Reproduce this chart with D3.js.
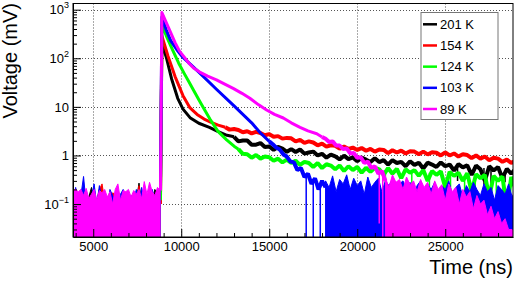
<!DOCTYPE html>
<html>
<head>
<meta charset="utf-8">
<script src="https://cdn.jsdelivr.net/npm/d3@7"></script>
<style>
  body { margin: 0; background: #fff; }
  svg { display: block; font-family: "Liberation Sans", Arial, Helvetica, sans-serif; }
</style>
</head>
<body>
<div id="chart"></div>
<script>
// ---- values (time in ns, voltage in mV) ----
const labels = ['201 K', '154 K', '124 K', '103 K', '89 K'];
const colors = ['#000000', '#ff0000', '#00ff00', '#0000ff', '#ff00ff'];

const xMajor = [5000, 10000, 15000, 20000, 25000];
const yMajor = [0.1, 1, 10, 100, 1000];
const yTickText = [['10', '\u22121'], ['1', ''], ['10', ''], ['10', '2'], ['10', '3']];

// baseline noise before the pulse, one value every 150 ns from 3850 ns
const preStart = 3850;
const preStep = 150;
const pre201 = [0.1, 0.12, 0.1, 0.13, 0.11, 0.1, 0.14, 0.22, 0.12, 0.1, 0.13, 0.11, 0.1, 0.12, 0.11, 0.1, 0.13, 0.12, 0.1, 0.11, 0.12, 0.1, 0.13, 0.11, 0.12, 0.27, 0.1, 0.12, 0.11, 0.13, 0.1, 0.2, 0.17, 0.12];
const pre154 = [0.12, 0.1, 0.14, 0.12, 0.1, 0.15, 0.1, 0.13, 0.16, 0.12, 0.2, 0.26, 0.12, 0.1, 0.13, 0.17, 0.16, 0.1, 0.12, 0.14, 0.1, 0.13, 0.15, 0.11, 0.12, 0.24, 0.1, 0.14, 0.12, 0.1, 0.13, 0.11, 0.12, 0.1];
const pre124 = [0.17, 0.1, 0.12, 0.1, 0.11, 0.12, 0.1, 0.11, 0.1, 0.12, 0.1, 0.14, 0.11, 0.1, 0.12, 0.1, 0.11, 0.1, 0.12, 0.13, 0.1, 0.11, 0.12, 0.1, 0.11, 0.1, 0.12, 0.1, 0.11, 0.12, 0.1, 0.11, 0.1, 0.12];
const pre103 = [0.1, 0.22, 0.12, 0.15, 0.37, 0.1, 0.12, 0.14, 0.26, 0.1, 0.24, 0.12, 0.15, 0.09, 0.2, 0.15, 0.12, 0.1, 0.16, 0.2, 0.12, 0.1, 0.15, 0.12, 0.2, 0.1, 0.22, 0.12, 0.15, 0.1, 0.2, 0.13, 0.18, 0.23];
const pre89 = [0.19, 0.2, 0.18, 0.2, 0.15, 0.21, 0.13, 0.16, 0.2, 0.12, 0.19, 0.17, 0.2, 0.14, 0.18, 0.1, 0.2, 0.26, 0.12, 0.19, 0.18, 0.2, 0.14, 0.19, 0.16, 0.2, 0.13, 0.29, 0.16, 0.28, 0.18, 0.15, 0.22, 0.19];

// pulse and fast decay, [time, voltage]
const decay201 = [[8820, 0.12], [8900, 205], [9150, 105], [9450, 38], [9800, 15], [10100, 9], [10500, 6], [11000, 4.6], [11600, 3.8], [12100, 3.1], [12600, 2.6], [13000, 2.42]];
const decay154 = [[8820, 0.1], [8900, 288], [9250, 110], [9650, 42], [10100, 17], [10500, 9.5], [10900, 7], [11300, 5.6], [11700, 4.8], [12100, 4.2], [12500, 3.8]];
const decay124 = [[8820, 0.12], [8900, 484], [9150, 290], [9500, 150], [9850, 80], [10150, 50], [10450, 32], [10700, 22], [11000, 14], [11300, 9], [11630, 5.6], [12100, 3.1], [12580, 2.1], [13000, 1.55], [13250, 1.35]];
const decay103 = [[8820, 0.23], [8900, 710], [9150, 380], [9400, 230], [9750, 150], [10100, 104], [11000, 52], [12000, 23], [13000, 10.5], [14000, 4.7], [14500, 2.9], [15000, 1.95]];
const decay89 = [[8820, 0.19], [8900, 870], [9250, 450], [9650, 210], [9900, 140], [10150, 108], [10450, 78], [10700, 63], [11050, 52], [11500, 43], [12000, 36], [12500, 29], [12950, 24], [13450, 19], [13900, 15], [14400, 11], [14850, 8.6], [15300, 7], [15800, 5.9], [16250, 4.7], [16750, 3.8], [17200, 3.2], [17700, 2.8], [18000, 2.4]];

// slow noisy tails, one value every 250 ns
const tailStep = 250;
const tail201Start = 13000;
const tail201 = [2.42, 1.95, 2.03, 2.03, 1.66, 1.67, 1.8, 1.49, 1.53, 1.3, 1.5, 1.39, 1.19, 1.35, 1.18, 1.33, 1.09, 1.15, 1.2, 1.0, 1.08, 0.9, 1.04, 0.96, 0.83, 0.99, 0.84, 0.91, 0.76, 0.9, 0.82, 0.73, 0.88, 0.73, 0.8, 0.65, 0.8, 0.7, 0.74, 0.6, 0.76, 0.64, 0.71, 0.54, 0.71, 0.65, 0.58, 0.72, 0.6, 0.65, 0.49, 0.66, 0.57, 0.63, 0.4, 0.62, 0.52, 0.3, 0.6, 0.49, 0.58, 0.34, 0.53, 0.42, 0.53];
const tail154Start = 12500;
const tail154 = [3.8, 3.4, 3.5, 3.35, 3.0, 3.15, 2.85, 3.05, 2.9, 2.6, 2.75, 2.42, 2.5, 2.22, 2.3, 2.25, 1.95, 2.1, 1.82, 1.95, 1.85, 1.62, 1.75, 1.52, 1.62, 1.58, 1.38, 1.52, 1.36, 1.45, 1.3, 1.42, 1.25, 1.36, 1.2, 1.33, 1.3, 1.12, 1.28, 1.15, 1.26, 1.1, 1.22, 1.2, 1.06, 1.2, 1.05, 1.17, 1.14, 1.0, 1.16, 1.0, 1.1, 0.95, 1.06, 1.02, 0.88, 1.0, 0.86, 0.95, 0.8, 0.9, 0.86, 0.74, 0.82, 0.7, 0.78];
const tail124Start = 13250;
const tail124 = [1.35, 1.08, 1.06, 0.9, 1.02, 0.86, 0.95, 0.92, 0.78, 0.86, 0.72, 0.82, 0.7, 0.78, 0.64, 0.74, 0.7, 0.58, 0.7, 0.55, 0.66, 0.62, 0.52, 0.62, 0.48, 0.6, 0.5, 0.58, 0.44, 0.56, 0.46, 0.56, 0.52, 0.4, 0.55, 0.42, 0.53, 0.34, 0.52, 0.44, 0.5, 0.38, 0.5, 0.3, 0.48, 0.4, 0.47, 0.22, 0.46, 0.38, 0.44, 0.3, 0.43, 0.18, 0.41, 0.34, 0.4, 0.14, 0.38, 0.3, 0.37, 0.08, 0.36, 0.2];

// noisy band where the fast traces hit the noise, [time, voltage]
const band103 = [[15000, 1.95], [15200, 1.7], [15400, 1.45], [15600, 1.32], [15800, 1.05], [16000, 0.95], [16200, 0.75], [16400, 0.72], [16600, 0.5], [16800, 0.55], [17000, 0.36], [17200, 0.42], [17400, 0.26], [17600, 0.34], [17800, 0.2], [18000, 0.3], [18200, 0.22]];
const band89 = [[18000, 2.4], [18200, 2.2], [18400, 1.9], [18600, 1.95], [18800, 1.6], [19000, 1.6], [19200, 1.35], [19400, 1.4], [19600, 1.1], [19800, 1.12], [20000, 0.9], [20200, 0.92], [20400, 0.7], [20600, 0.75], [20800, 0.55], [21000, 0.6], [21200, 0.42], [21400, 0.48], [21600, 0.3]];

// noise floor once the signal is gone, one value every 200 ns
const floorStep = 200;
const floor103Start = 18200;
const floor103 = [0.3, 0.22, 0.38, 0.18, 0.32, 0.26, 0.4, 0.2, 0.34, 0.24, 0.3, 0.16, 0.36, 0.22, 0.28, 0.34, 0.18, 0.3, 0.24, 0.32, 0.16, 0.26, 0.3, 0.2, 0.28, 0.14, 0.24, 0.3, 0.18, 0.26, 0.2, 0.28, 0.15, 0.24, 0.2, 0.3, 0.16, 0.22, 0.26, 0.14, 0.24, 0.18, 0.28, 0.2, 0.15, 0.26, 0.18, 0.22, 0.12, 0.24, 0.2, 0.16, 0.26, 0.14, 0.2];
const floor89Start = 21600;
const floor89 = [0.35, 0.22, 0.4, 0.28, 0.32, 0.2, 0.36, 0.25, 0.3, 0.18, 0.32, 0.22, 0.28, 0.16, 0.3, 0.2, 0.25, 0.12, 0.26, 0.18, 0.22, 0.1, 0.2, 0.14, 0.18, 0.08, 0.15, 0.1, 0.12, 0.06, 0.09, 0.05, 0.07, 0.04, 0.05, 0.03, 0.03, 0.02];

// single-sample downward spikes, [time, from, to]
const spikes201 = [[25700, 0.6, 0.3], [27200, 0.55, 0.25], [27600, 0.55, 0.18], [28400, 0.5, 0.28]];
const spikes124 = [[21600, 0.5, 0.2], [23100, 0.46, 0.15], [24100, 0.44, 0.12], [25300, 0.41, 0.08], [26100, 0.38, 0.1], [26700, 0.36, 0.06], [27300, 0.35, 0.09], [27900, 0.33, 0.04], [28300, 0.32, 0.07], [28700, 0.3, 0.03]];
const spikes103 = [[17100, 0.4, 0.02], [17500, 0.3, 0.02], [17900, 0.26, 0.02]];
const spikes89 = [[21250, 0.4, 0.04], [21450, 0.4, 0.02]];

function Waveforms() {
  const width = 515;
  const height = 284;
  const frame = { l: 73, r: 513, t: 3.5, b: 237 };

  const scaleX = d3.scaleLinear()
    .domain([3850, 28850])
    .range([frame.l, frame.r]);

  const scaleY = d3.scaleLog()
    .domain([0.021, 1340])
    .range([frame.b, frame.t])
    .clamp(true);

  const stepped = (start, step, vals) => vals.map((v, i) => [start + i * step, v]);

  const series = [
    { pre: pre201, decay: decay201, tail: stepped(tail201Start, tailStep, tail201), floor: null, spikes: spikes201 },
    { pre: pre154, decay: decay154, tail: stepped(tail154Start, tailStep, tail154), floor: null, spikes: [] },
    { pre: pre124, decay: decay124, tail: stepped(tail124Start, tailStep, tail124), floor: null, spikes: spikes124 },
    { pre: pre103, decay: decay103, tail: band103, floor: stepped(floor103Start, floorStep, floor103), spikes: spikes103 },
    { pre: pre89, decay: decay89, tail: band89, floor: stepped(floor89Start, floorStep, floor89), spikes: spikes89 },
  ].map((s, i) => Object.assign(s, { label: labels[i], color: colors[i] }));

  function exports(selection) {
    const svg = selection.append('svg')
      .attr('width', width)
      .attr('height', height);

    svg.append('rect')
      .attr('width', width)
      .attr('height', height)
      .attr('fill', '#fff');

    svg.append('clipPath')
      .attr('id', 'frame-clip')
      .append('rect')
      .attr('x', frame.l)
      .attr('y', frame.t)
      .attr('width', frame.r - frame.l)
      .attr('height', frame.b - frame.t);

    // grid
    const grid = svg.append('g')
      .attr('stroke', '#555')
      .attr('stroke-width', 1)
      .attr('stroke-dasharray', '1,2');

    grid.selectAll('.gx')
      .data(xMajor)
      .enter().append('line')
      .attr('x1', d => Math.round(scaleX(d)) + 0.5)
      .attr('x2', d => Math.round(scaleX(d)) + 0.5)
      .attr('y1', frame.t)
      .attr('y2', frame.b);

    grid.selectAll('.gy')
      .data(yMajor)
      .enter().append('line')
      .attr('x1', frame.l)
      .attr('x2', frame.r)
      .attr('y1', d => Math.round(scaleY(d)) + 0.5)
      .attr('y2', d => Math.round(scaleY(d)) + 0.5);

    // waveforms
    const plot = svg.append('g').attr('clip-path', 'url(#frame-clip)');

    const area = d3.area()
      .x(d => scaleX(d[0]))
      .y0(frame.b)
      .y1(d => scaleY(d[1]));

    const line = d3.line()
      .x(d => scaleX(d[0]))
      .y(d => scaleY(d[1]));

    series.forEach((s) => {
      const g = plot.append('g');

      g.append('path')
        .datum(stepped(preStart, preStep, s.pre))
        .attr('d', area)
        .attr('fill', s.color)
        .attr('stroke', s.color)
        .attr('stroke-width', 1);

      if (s.floor) {
        g.append('path')
          .datum(s.floor)
          .attr('d', area)
          .attr('fill', s.color)
          .attr('stroke', s.color)
          .attr('stroke-width', 1);
      }

      g.append('path')
        .datum(s.decay)
        .attr('d', line)
        .attr('fill', 'none')
        .attr('stroke', s.color)
        .attr('stroke-width', 3)
        .attr('stroke-linejoin', 'round');

      g.append('path')
        .datum(s.tail)
        .attr('d', line)
        .attr('fill', 'none')
        .attr('stroke', s.color)
        .attr('stroke-width', 4)
        .attr('stroke-linejoin', 'bevel');

      g.selectAll('.spike')
        .data(s.spikes)
        .enter().append('line')
        .attr('x1', d => scaleX(d[0]))
        .attr('x2', d => scaleX(d[0]))
        .attr('y1', d => scaleY(d[1]))
        .attr('y2', d => scaleY(d[2]))
        .attr('stroke', s.color)
        .attr('stroke-width', 1.5);
    });

    // frame
    svg.append('rect')
      .attr('x', frame.l)
      .attr('y', frame.t)
      .attr('width', frame.r - frame.l)
      .attr('height', frame.b - frame.t)
      .attr('fill', 'none')
      .attr('stroke', '#000')
      .attr('stroke-width', 1);

    // axes
    const xMinor = d3.range(4000, 29000, 1000).filter(d => xMajor.indexOf(d) < 0);
    const yMinor = [];
    [0.01, 0.1, 1, 10, 100].forEach((dec) => {
      [2, 3, 4, 5, 6, 7, 8, 9].forEach((m) => {
        const v = +(dec * m).toPrecision(3);
        if (v > 0.021 && v < 1340) yMinor.push(v);
      });
    });

    svg.append('g')
      .attr('transform', `translate(0, ${frame.b})`)
      .call(d3.axisBottom(scaleX).tickValues(xMinor).tickSizeInner(-4).tickSizeOuter(0).tickFormat(''))
      .call(g => g.select('.domain').remove());

    const xAxis = svg.append('g')
      .attr('transform', `translate(0, ${frame.b})`)
      .call(d3.axisBottom(scaleX).tickValues(xMajor).tickSizeInner(-8).tickSizeOuter(0).tickPadding(5).tickFormat(d3.format('d')));

    xAxis.attr('font-family', null).attr('font-size', 13);

    svg.append('g')
      .attr('transform', `translate(${frame.l}, 0)`)
      .call(d3.axisLeft(scaleY).tickValues(yMinor).tickSizeInner(-4).tickSizeOuter(0).tickFormat(''))
      .call(g => g.select('.domain').remove());

    const yAxis = svg.append('g')
      .attr('transform', `translate(${frame.l}, 0)`)
      .call(d3.axisLeft(scaleY).tickValues(yMajor).tickSizeInner(-8).tickSizeOuter(0).tickPadding(4));

    yAxis.attr('font-family', null).attr('font-size', 13);

    yAxis.selectAll('.tick text').each(function (d, i) {
      const t = d3.select(this).text(null);
      t.append('tspan').text(yTickText[i][0]);
      if (yTickText[i][1]) {
        t.append('tspan')
          .attr('font-size', 9)
          .attr('dy', -6)
          .text(yTickText[i][1]);
      }
    });

    // axis titles
    svg.append('text')
      .attr('transform', 'translate(17, 3) rotate(-90)')
      .attr('text-anchor', 'end')
      .attr('font-size', 20)
      .text('Voltage (mV)');

    svg.append('text')
      .attr('x', 513)
      .attr('y', 274)
      .attr('text-anchor', 'end')
      .attr('font-size', 20)
      .text('Time (ns)');

    // legend
    const legend = svg.append('g');

    legend.append('rect')
      .attr('x', 421)
      .attr('y', 12.5)
      .attr('width', 77)
      .attr('height', 107)
      .attr('fill', '#fff')
      .attr('stroke', '#777')
      .attr('stroke-width', 1);

    const rowY = d3.scalePoint()
      .domain(labels)
      .range([24.3, 109]);

    const rows = legend.selectAll('.row')
      .data(series)
      .enter().append('g')
      .attr('transform', d => `translate(0, ${rowY(d.label)})`);

    rows.append('line')
      .attr('x1', 423)
      .attr('x2', 437)
      .attr('stroke', d => d.color)
      .attr('stroke-width', 2.5);

    rows.append('text')
      .attr('x', 440)
      .attr('dy', '0.35em')
      .attr('font-size', 13)
      .text(d => d.label);
  }

  return exports;
}

d3.select('#chart').call(Waveforms());
</script>
</body>
</html>
